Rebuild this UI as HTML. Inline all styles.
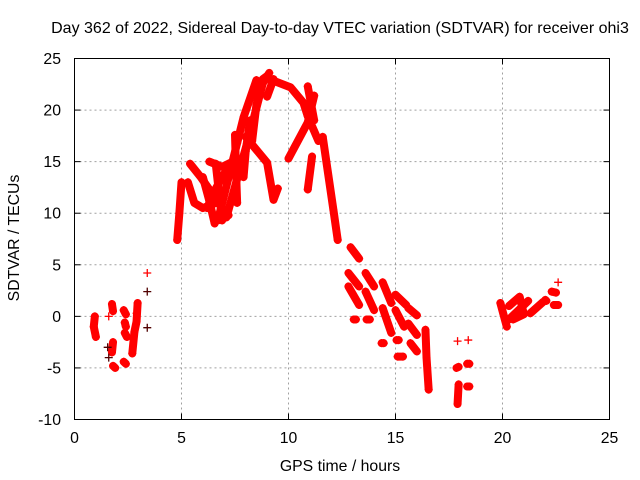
<!DOCTYPE html>
<html><head><meta charset="utf-8"><style>
html,body{margin:0;padding:0;background:#fff;}
svg{display:block;font-family:"Liberation Sans",sans-serif;}
</style></head><body>
<svg id="chart" width="640" height="480" viewBox="0 0 640 480" xmlns="http://www.w3.org/2000/svg">
<rect x="0" y="0" width="640" height="480" fill="#fff"/>
<text x="340" y="33" font-size="16" text-anchor="middle" fill="#000">Day 362 of 2022, Sidereal Day-to-day VTEC variation (SDTVAR) for receiver ohi3</text>
<text x="0" y="0" font-size="15.8" text-anchor="middle" transform="translate(19,238) rotate(-90)">SDTVAR / TECUs</text>
<text x="340" y="471" font-size="15.8" text-anchor="middle">GPS time / hours</text>
<g id="grid"></g>
<g id="ticks"></g>
<g id="marks"></g>
<rect x="74.5" y="58.5" width="535" height="361" fill="none" stroke="#000" stroke-width="1"/>
</svg>
<script>
const xTicks = [0,5,10,15,20,25];
const yTicks = [-10,-5,0,5,10,15,20,25];
// Each track: sequence of [GPS hour, SDTVAR] readings
const tracks = [
  [[0.95,0.0],[0.9,-1.0],[1.0,-2.0]],
  [[1.75,1.2],[1.8,0.5]],
  [[1.8,-2.5],[1.75,-3.5]],
  [[1.8,-4.8],[1.9,-5.0]],
  [[2.3,0.6],[2.4,0.2]],
  [[2.35,-0.6],[2.4,-1.0]],
  [[2.35,-1.6],[2.45,-2.0]],
  [[2.3,-4.4],[2.4,-4.6]],
  [[2.95,1.3],[2.9,-0.5],[2.8,-1.5],[2.7,-3.6]],
  [[4.8,7.4],[4.9,10.0],[5.0,13.0]],
  [[5.4,14.8],[5.9,13.5],[6.4,12.0],[6.9,10.5],[7.2,9.8]],
  [[5.3,13.0],[5.6,11.0],[6.0,10.5],[6.6,11.0]],
  [[6.0,13.5],[6.3,11.2],[6.55,9.0]],
  [[6.6,14.8],[6.75,12.0],[6.9,9.3]],
  [[6.3,15.0],[6.9,14.5],[7.4,15.0]],
  [[6.2,10.5],[6.5,12.0],[6.9,13.5],[7.2,14.5]],
  [[6.7,9.3],[7.6,16.8],[7.9,19.3],[8.5,22.9]],
  [[7.1,9.6],[8.2,17.8],[8.8,22.6],[9.1,23.6]],
  [[8.3,17.0],[8.5,20.5],[8.8,23.0],[9.0,23.3]],
  [[7.5,17.6],[7.55,14.0],[7.6,11.0]],
  [[7.9,13.5],[8.0,16.0],[8.2,19.0]],
  [[9.0,21.3],[9.3,23.0]],
  [[9.1,23.0],[10.1,22.2],[10.7,20.7],[10.9,19.4],[11.4,17.0]],
  [[8.0,17.4],[9.0,14.9],[9.3,11.3],[9.5,12.4]],
  [[10.0,15.3],[10.9,18.8],[11.2,21.4]],
  [[10.9,22.3],[11.2,19.0]],
  [[11.1,15.5],[10.9,12.3]],
  [[11.6,17.4],[12.1,10.3],[12.3,7.4]],
  [[12.9,6.7],[13.3,5.6]],
  [[12.8,4.2],[13.3,2.9]],
  [[12.8,2.9],[13.3,1.1]],
  [[13.05,-0.3],[13.15,-0.3]],
  [[13.6,4.2],[14.0,2.9]],
  [[13.6,2.4],[14.0,0.6]],
  [[13.65,-0.3],[13.8,-0.3]],
  [[14.4,3.3],[14.8,1.3]],
  [[14.4,0.8],[14.8,-1.6]],
  [[14.35,-2.6],[14.45,-2.6]],
  [[15.0,2.1],[15.5,1.1]],
  [[15.0,0.6],[15.4,-1.0]],
  [[15.05,-2.3],[15.15,-2.3]],
  [[15.1,-3.9],[15.35,-3.9]],
  [[15.6,0.8],[16.0,0.1]],
  [[15.6,-0.7],[16.0,-1.8]],
  [[15.7,-2.6],[16.0,-3.4]],
  [[16.4,-1.3],[16.45,-4.0],[16.55,-7.1]],
  [[17.85,-5.0],[17.95,-4.9]],
  [[17.95,-6.6],[17.9,-8.5]],
  [[18.35,-4.6],[18.45,-4.6]],
  [[18.35,-6.8],[18.45,-6.8]],
  [[19.9,1.3],[20.2,-1.0]],
  [[20.3,-0.3],[20.7,0.5],[21.2,1.5]],
  [[20.3,1.0],[20.8,1.9],[21.0,0.2],[20.5,-0.3]],
  [[21.3,0.3],[21.9,1.4]],
  [[22.0,1.6],[22.05,1.5]],
  [[22.4,1.1],[22.6,1.1]],
  [[22.3,2.4],[22.5,2.3]]
];
// isolated single readings
const singlesT = [3.4,18.4,17.9,22.6,1.6,2.9];
const singlesV = [4.2,-2.3,-2.4,3.3,0.0,0.3];
// darker readings
const darkT = [3.4,3.4,1.55,1.6];
const darkV = [2.4,-1.1,-3.0,-4.0];

const X0=74.5, X1=609.5, Y0=419.5, Y1=58.5;
const xMin=0,xMax=25,yMin=-10,yMax=25;
const sx = t => X0 + (t-xMin)/(xMax-xMin)*(X1-X0);
const sy = v => Y0 - (v-yMin)/(yMax-yMin)*(Y0-Y1);
const NS="http://www.w3.org/2000/svg";
const grid=document.getElementById('grid'), ticks=document.getElementById('ticks'), marks=document.getElementById('marks');
function mk(tag,attrs,parent){const e=document.createElementNS(NS,tag);for(const k in attrs)e.setAttribute(k,attrs[k]);parent.appendChild(e);return e;}

xTicks.forEach(t=>{
  const x=sx(t);
  if(t>xMin&&t<xMax){
    const g=mk('line',{x1:x,x2:x,y1:Y0,y2:Y1,stroke:'#a0a0a0','stroke-dasharray':'2,3'},grid);
    
    
  }
  const a=mk('line',{x1:x,x2:x,y1:Y0,y2:Y0-6,stroke:'#000'},ticks);
  
  
  const b=mk('line',{x1:x,x2:x,y1:Y1,y2:Y1+6,stroke:'#000'},ticks);
  
  
  const l=mk('text',{x:x,y:443,'font-size':15.8,'text-anchor':'middle'},ticks);
  l.textContent=t;
  
  
});
yTicks.forEach(v=>{
  const y=sy(v);
  if(v>yMin&&v<yMax){
    const g=mk('line',{x1:X0,x2:X1,y1:y,y2:y,stroke:'#a0a0a0','stroke-dasharray':'2,3'},grid);
    
    
  }
  const a=mk('line',{x1:X0,x2:X0+6,y1:y,y2:y,stroke:'#000'},ticks);
  
  
  const b=mk('line',{x1:X1,x2:X1-6,y1:y,y2:y,stroke:'#000'},ticks);
  
  
  const l=mk('text',{x:61,y:y+5.5,'font-size':15.8,'text-anchor':'end'},ticks);
  l.textContent=v;
  
  
});
function plus(t,v,color,parent){
  const x=sx(t),y=sy(v);
  const p=mk('path',{d:`M${x-4},${y}H${x+4}M${x},${y-4}V${y+4}`,stroke:color,'stroke-width':1.3,fill:'none'},parent);
  
  
}
tracks.forEach(tr=>{
  const g=mk('g',{},marks);
  
  
  const pl=mk('polyline',{points:tr.map(p=>sx(p[0])+','+sy(p[1])).join(' '),fill:'none',stroke:'#ff0000','stroke-width':8,'stroke-linejoin':'round','stroke-linecap':'round'},g);
  
  
  tr.forEach(p=>plus(p[0],p[1],'#ff0000',g));
});
singlesT.forEach((t,i)=>plus(t,singlesV[i],'#ff0000',marks));
darkT.forEach((t,i)=>plus(t,darkV[i],'#500000',marks));
</script>
</body></html>
